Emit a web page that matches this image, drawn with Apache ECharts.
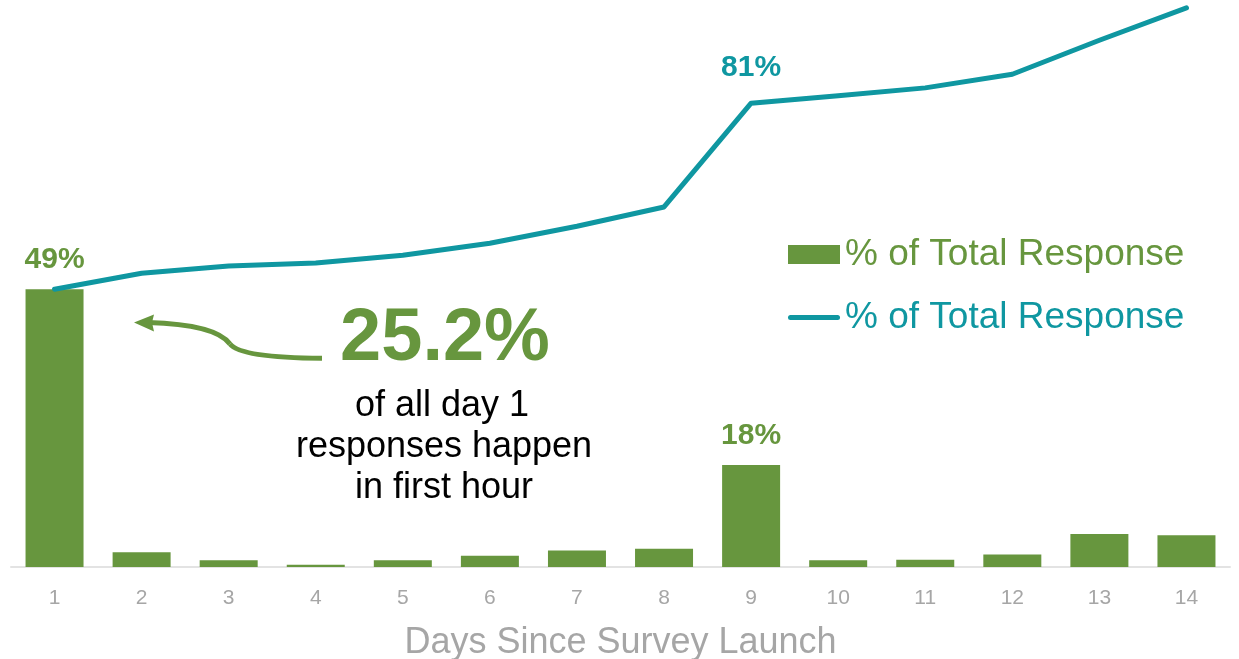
<!DOCTYPE html>
<html>
<head>
<meta charset="utf-8">
<script src="https://cdn.jsdelivr.net/npm/echarts@6/dist/echarts.min.js"></script>
<style>
html,body{margin:0;padding:0;background:#fff;}
#chart{width:1239px;height:659px;}
</style>
</head>
<body>
<div id="chart"></div>
<script>
// ---- data ----
const days = ['1','2','3','4','5','6','7','8','9','10','11','12','13','14'];
const dailyPct = [49, 2.6, 1.2, 0.4, 1.2, 2.0, 2.9, 3.2, 18, 1.2, 1.3, 2.2, 5.8, 5.6];
const cumulativePct = [49, 51.8, 53.1, 53.6, 55.0, 57.1, 60.1, 63.5, 81.8, 83.1, 84.5, 86.9, 92.9, 98.6];
const dailyLabels = ['49%','','','','','','','','18%','','','','',''];
const cumulativeLabels = ['','','','','','','','','81%','','','','',''];
const legendText = '% of Total Response';
const xAxisTitle = 'Days Since Survey Launch';
const calloutValue = '25.2%';
const calloutLines = ['of all day 1', 'responses happen', 'in first hour'];

const GREEN = '#67963e';
const TEAL = '#0f97a1';
const FONT = '"Liberation Sans", Arial, sans-serif';

const chart = echarts.init(document.getElementById('chart'), null, {renderer: 'canvas'});

const barData = dailyPct.map((v, i) => ({
  value: v,
  label: {show: dailyLabels[i] !== '', formatter: dailyLabels[i]}
}));
const lineData = cumulativePct.map((v, i) => ({
  value: v,
  label: {show: cumulativeLabels[i] !== '', formatter: cumulativeLabels[i]}
}));

const lineIcon = 'path://M2.5,0 H49.5 A2.5,2.5 0 0 1 49.5,5 H2.5 A2.5,2.5 0 0 1 2.5,0 Z';

const option = {
  animation: false,
  backgroundColor: '#ffffff',
  grid: {left: 11, right: 9, top: 0, bottom: 92, containLabel: false, outerBoundsMode: 'none'},
  legend: {
    orient: 'vertical',
    left: 783,
    top: 231,
    itemWidth: 52,
    itemHeight: 19,
    itemGap: 26,
    symbolKeepAspect: true,
    textStyle: {fontFamily: FONT, fontSize: 37},
    formatter: function () { return legendText; },
    data: [
      {name: 'daily', icon: 'rect', itemStyle: {color: GREEN}, textStyle: {color: GREEN}},
      {name: 'cumulative', icon: lineIcon, itemStyle: {color: TEAL}, textStyle: {color: TEAL}}
    ]
  },
  xAxis: {
    type: 'category',
    data: days,
    axisLine: {show: true, lineStyle: {color: '#e3e3e3', width: 2}},
    axisTick: {show: false},
    axisLabel: {color: '#a6a6a6', fontFamily: FONT, fontSize: 21, margin: 21},
    name: xAxisTitle,
    nameLocation: 'middle',
    nameGap: 58,
    nameTextStyle: {color: '#a6a6a6', fontFamily: FONT, fontSize: 36}
  },
  yAxis: {
    type: 'value', min: 0, max: 100, show: false,
    splitLine: {show: false}
  },
  series: [
    {
      name: 'daily',
      type: 'bar',
      data: barData,
      barWidth: 58,
      itemStyle: {color: GREEN},
      label: {
        position: 'top', distance: 14,
        color: GREEN, fontFamily: FONT, fontSize: 30, fontWeight: 'bold'
      },
      z: 2
    },
    {
      name: 'cumulative',
      type: 'line',
      data: lineData,
      symbol: 'circle',
      symbolSize: 1,
      showSymbol: true,
      lineStyle: {color: TEAL, width: 5, cap: 'round', join: 'round'},
      itemStyle: {color: TEAL},
      label: {
        show: false,
        position: 'top', distance: 20,
        color: TEAL, fontFamily: FONT, fontSize: 30, fontWeight: 'bold'
      },
      labelLayout: {hideOverlap: false},
      z: 3
    }
  ],
  graphic: [
    {
      type: 'bezierCurve',
      shape: {x1: 322, y1: 358.3, cpx1: 272, cpy1: 358, cpx2: 238, cpy2: 354, x2: 230, y2: 344},
      style: {fill: null, stroke: GREEN, lineWidth: 5}
    },
    {
      type: 'bezierCurve',
      shape: {x1: 230, y1: 344, cpx1: 222, cpy1: 333, cpx2: 200, cpy2: 324, x2: 148, y2: 322.5},
      style: {fill: null, stroke: GREEN, lineWidth: 5}
    },
    {
      type: 'polygon',
      shape: {points: [[134,322.5],[154,314.5],[152,322.5],[154,331.5]]},
      style: {fill: GREEN}
    },
    {
      type: 'text',
      style: {
        text: calloutValue, x: 445, y: 340,
        align: 'center', verticalAlign: 'middle',
        fill: GREEN, font: 'bold 74px ' + FONT
      }
    },
    {
      type: 'text',
      style: {
        text: calloutLines[0], x: 442, y: 406.5,
        align: 'center', verticalAlign: 'middle',
        fill: '#000000', font: '36px ' + FONT
      }
    },
    {
      type: 'text',
      style: {
        text: calloutLines[1], x: 444, y: 447.5,
        align: 'center', verticalAlign: 'middle',
        fill: '#000000', font: '36px ' + FONT
      }
    },
    {
      type: 'text',
      style: {
        text: calloutLines[2], x: 444, y: 488,
        align: 'center', verticalAlign: 'middle',
        fill: '#000000', font: '36px ' + FONT
      }
    }
  ]
};
chart.setOption(option);
</script>
</body>
</html>
